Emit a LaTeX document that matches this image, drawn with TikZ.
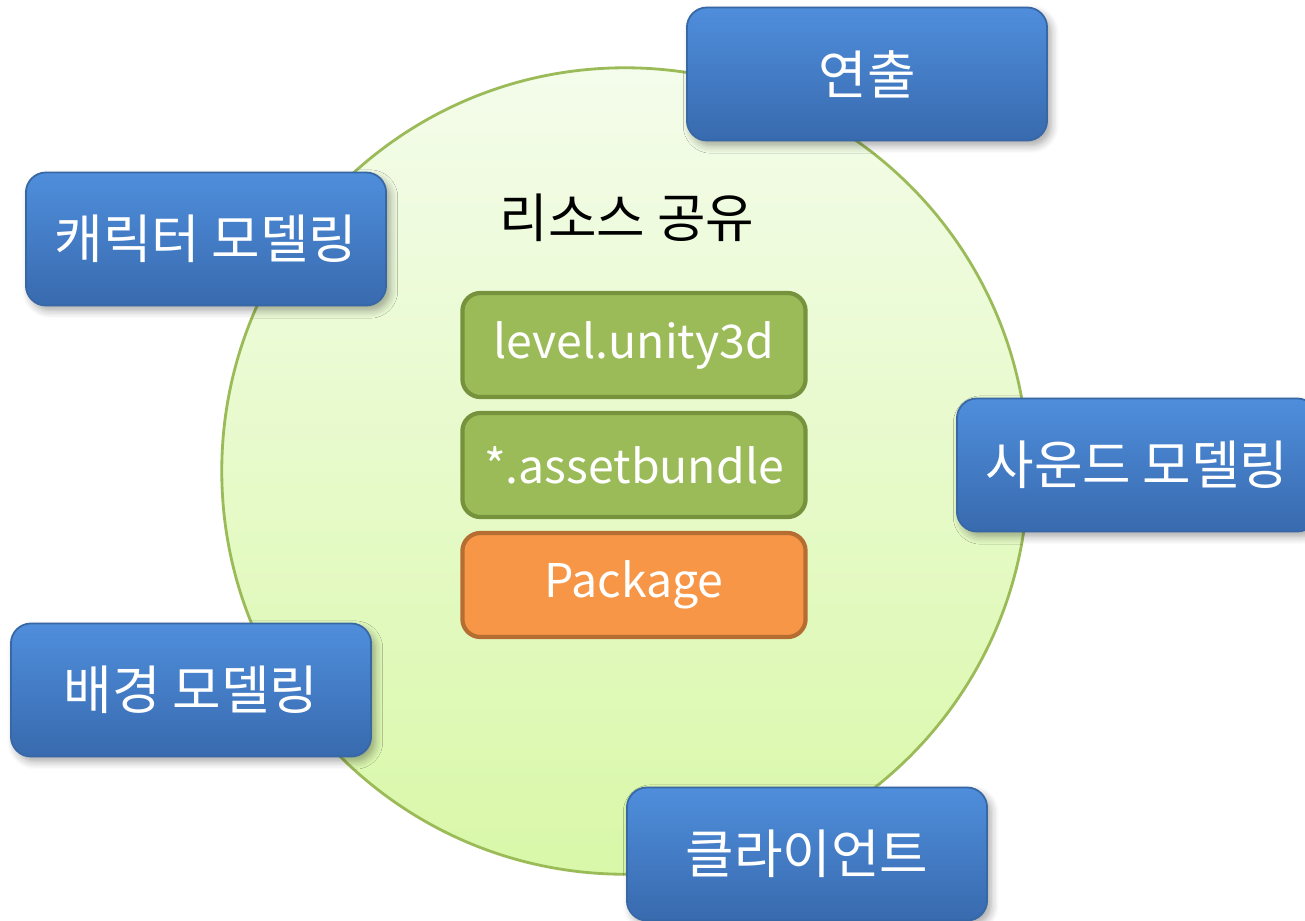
\documentclass[tikz,border=0pt]{standalone}
\usepackage{fontspec}
\setmainfont{Noto Sans CJK KR}
\newfontfamily\kr{Noto Sans CJK KR}
\usepackage{xcolor}
\usepackage{tikz}
\usetikzlibrary{positioning,shadows.blur}

\definecolor{poolTop}{HTML}{F4FCEB}
\definecolor{poolBot}{HTML}{D9F8A8}
\definecolor{poolLine}{HTML}{9BBB59}
\definecolor{teamTop}{HTML}{4F8EDC}
\definecolor{teamBot}{HTML}{386AAE}
\definecolor{teamLine}{HTML}{3767A5}
\definecolor{fileFill}{HTML}{9BBB59}
\definecolor{fileLine}{HTML}{76923C}
\definecolor{pkgFill}{HTML}{F79646}
\definecolor{pkgLine}{HTML}{B66D31}

\begin{document}
\begin{tikzpicture}[x=0.01cm,y=-0.01cm,
  team/.style={rounded corners=0.2cm, minimum width=3.6cm, minimum height=1.33cm,
    top color=teamTop, bottom color=teamBot, draw=teamLine, line width=0.5pt,
    text=white, font=\kr\fontsize{15}{18}\selectfont,
    blur shadow={shadow xshift=0.04cm, shadow yshift=-0.05cm, shadow opacity=35, shadow blur steps=6}},
  filebox/.style={rounded corners=0.18cm, minimum width=3.43cm, minimum height=1.04cm,
    text width=3.2cm, align=center, inner xsep=0pt,
    fill=fileFill, draw=fileLine, line width=1.2pt,
    text=white, font=\fontsize{13.2}{16}\selectfont},
  pkgbox/.style={filebox, fill=pkgFill, draw=pkgLine}]
\useasboundingbox (0,0) rectangle (1305,920);
% shared pool
\node[circle, minimum size=8.06cm, top color=poolTop, bottom color=poolBot,
  draw=poolLine, line width=0.8pt] (pool) at (625,471) {};
\node[font=\kr\fontsize{15}{18}\selectfont] (title) at (627,218) {리소스 공유};
% files
\node[filebox] (level) at (634,345) {level.unity3d};
\node[filebox] (bundle) at (634,465) {*.assetbundle};
\node[pkgbox] (pkg) at (634,585) {Package};
% teams
\node[team] (direct) at (867,74) {연출};
\node[team] (chara) at (206,239) {캐릭터 모델링};
\node[team] (sound) at (1137,465) {사운드 모델링};
\node[team] (backg) at (191,690) {배경 모델링};
\node[team] (client) at (807,854) {클라이언트};
\end{tikzpicture}
\end{document}
